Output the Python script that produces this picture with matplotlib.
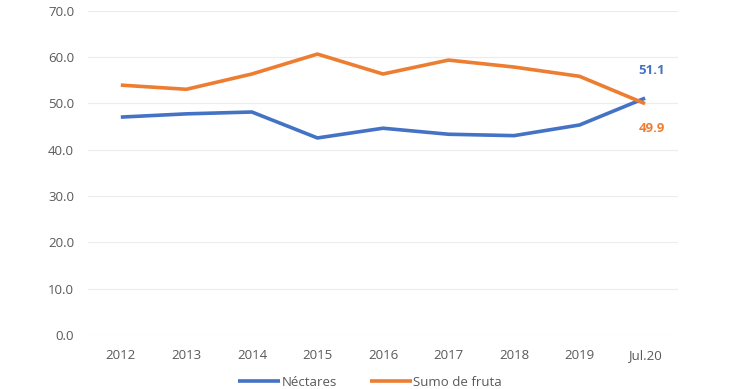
import matplotlib.pyplot as plt

years = ['2012', '2013', '2014', '2015', '2016', '2017', '2018', '2019', 'Jul.20']
nectares = [47.0, 47.7, 48.1, 42.5, 44.6, 43.3, 43.0, 45.3, 51.1]
sumo = [53.9, 53.0, 56.3, 60.6, 56.3, 59.3, 57.8, 55.8, 49.9]
yticks = [0, 10, 20, 30, 40, 50, 60, 70]

plt.rcParams['font.family'] = ['Open Sans', 'DejaVu Sans']

blue = '#4472C4'
orange = '#ED7D31'
grey = '#595959'

fig = plt.figure(figsize=(7.4, 3.89), dpi=100)
ax = fig.add_axes([0.119, 0.139, 0.797, 0.834])

x = range(len(years))
ax.plot(x, nectares, color=blue, lw=2.6, label='Néctares', solid_capstyle='butt')
ax.plot(x, sumo, color=orange, lw=2.6, label='Sumo de fruta', solid_capstyle='butt')

ax.annotate(f'{nectares[-1]:.1f}', (x[-1], nectares[-1]), xytext=(5, 20), textcoords='offset points',
            ha='center', va='center', color=blue, fontsize=9.5, fontweight='bold')
ax.annotate(f'{sumo[-1]:.1f}', (x[-1], sumo[-1]), xytext=(5, -18), textcoords='offset points',
            ha='center', va='center', color=orange, fontsize=9.5, fontweight='bold')

ax.set_xlim(-0.5, len(years) - 0.5)
ax.set_ylim(0, 70)
ax.set_xticks(list(x))
ax.set_xticklabels(years)
ax.set_yticks(yticks)
ax.set_yticklabels([f'{v:.1f}' for v in yticks])
ax.tick_params(length=0, labelsize=9.5, labelcolor=grey, pad=10)
ax.tick_params(axis='y', pad=10)
ax.grid(axis='y', color='#ececec', lw=0.8)
ax.set_axisbelow(True)
for s in ax.spines.values():
    s.set_visible(False)

fig.legend(loc='lower center', bbox_to_anchor=(0.5, -0.03), ncol=2, frameon=False,
           fontsize=9.5, labelcolor=grey, handlelength=3.2, handletextpad=0.1, columnspacing=2.5)

fig.savefig('out.png', dpi=100)
